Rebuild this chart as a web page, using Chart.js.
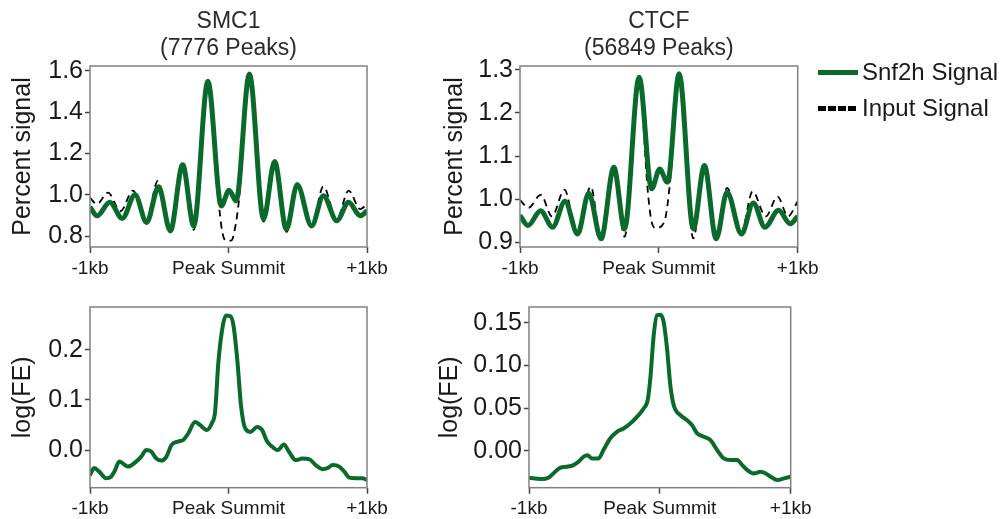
<!DOCTYPE html>
<html>
<head>
<meta charset="utf-8">
<script src="https://cdn.jsdelivr.net/npm/chart.js@4.4.0/dist/chart.umd.min.js"></script>
<style>
  body { margin: 0; background: #fff; width: 1008px; height: 519px; overflow: hidden; position: relative; font-family: "Liberation Sans", Arial, Helvetica, sans-serif; }
  canvas { position: absolute; }
  #legend { position: absolute; left: 818px; top: 54px; font-size: 24px; color: #1a1a1a; }
  #legend .item { display: flex; align-items: center; height: 36px; }
  #legend .swatch { width: 40px; height: 5px; margin-right: 4px; }
</style>
</head>
<body>
<canvas id="smc1Top" width="400" height="290" style="left:0;top:0"></canvas>
<canvas id="ctcfTop" width="400" height="290" style="left:432px;top:0"></canvas>
<canvas id="smc1Bottom" width="400" height="229" style="left:0;top:290px"></canvas>
<canvas id="ctcfBottom" width="400" height="229" style="left:427px;top:290px"></canvas>
<div id="legend"></div>
<script>
// ---- data (bp from peak summit) ----
const smc1Pos    = [-1000,-949,-857,-767,-675,-591,-505,-420,-331,-251,-149,-52,4,55,151,253,333,418,496,600,685,782,867,951,1000];
const smc1Snf2h  = [0.94,0.898,0.963,0.885,1.0,0.866,1.038,0.825,1.145,0.849,1.549,0.946,1.022,0.97,1.584,0.882,1.161,0.833,1.048,0.849,0.995,0.874,0.963,0.898,0.922];
const smc1InPos  = [-1000,-950,-870,-780,-690,-595,-510,-420,-335,-251,-149,-75,-45,-20,20,45,75,151,253,333,420,496,600,685,782,867,951,1000];
const smc1Input  = [0.985,0.955,1.01,0.92,1.02,0.87,1.067,0.82,1.14,0.83,1.54,0.99,0.82,0.778,0.778,0.83,0.97,1.575,0.87,1.155,0.82,1.055,0.85,1.04,0.88,1.02,0.93,0.955];

const ctcfPos    = [-1000,-942,-852,-765,-676,-585,-505,-416,-324,-247,-142,-52,6,62,146,248,328,413,491,595,680,764,862,946,1000];
const ctcfSnf2h  = [0.962,0.939,0.973,0.935,0.995,0.919,1.014,0.908,1.074,0.931,1.283,1.024,1.070,1.039,1.291,0.931,1.078,0.908,1.016,0.919,0.991,0.935,0.974,0.943,0.960];
const ctcfInPos  = [-1000,-940,-850,-770,-680,-590,-490,-416,-324,-247,-142,-80,-55,-20,40,80,146,248,328,413,491,595,675,770,855,930,1000];
const ctcfInput  = [0.998,0.98,1.01,0.96,1.022,0.925,1.029,0.905,1.07,0.913,1.275,1.02,0.952,0.933,0.948,1.037,1.285,0.909,1.075,0.905,1.026,0.925,1.018,0.96,1.006,0.96,0.995];

const smc1FePos  = [-1000,-970,-933,-885,-848,-824,-788,-727,-667,-630,-594,-558,-521,-485,-448,-412,-364,-327,-291,-242,-206,-158,-121,-97,-73,-41,-17,12,36,65,90,121,158,206,242,279,315,356,400,436,485,533,582,630,679,715,752,800,836,873,921,970,1000];
const smc1Fe     = [-0.050,-0.036,-0.043,-0.056,-0.053,-0.043,-0.023,-0.033,-0.023,-0.013,0.000,-0.003,-0.017,-0.021,-0.013,0.010,0.017,0.020,0.033,0.056,0.050,0.040,0.053,0.076,0.175,0.248,0.268,0.267,0.248,0.175,0.089,0.043,0.036,0.046,0.040,0.017,0.007,0.000,0.011,-0.003,-0.020,-0.017,-0.018,-0.030,-0.038,-0.036,-0.030,-0.033,-0.043,-0.055,-0.056,-0.056,-0.060];

const ctcfFePos  = [-1000,-954,-903,-852,-814,-763,-712,-660,-622,-584,-553,-520,-469,-431,-380,-328,-277,-226,-175,-124,-93,-73,-47,-22,4,29,55,80,106,157,208,246,285,336,387,438,489,540,591,630,668,719,770,808,847,898,949,1000];
const ctcfFe     = [-0.0316,-0.0323,-0.0331,-0.0316,-0.0265,-0.0199,-0.0187,-0.0168,-0.0129,-0.0070,-0.0051,-0.0090,-0.0090,0.0008,0.0144,0.0222,0.0261,0.0319,0.0397,0.0495,0.0592,0.0845,0.135,0.1586,0.1593,0.1508,0.1196,0.0768,0.0534,0.0417,0.0358,0.0300,0.0203,0.0164,0.0125,0.0008,-0.0090,-0.0109,-0.0109,-0.0168,-0.0226,-0.0265,-0.0245,-0.0265,-0.0304,-0.0343,-0.0323,-0.0304];

const xTicks      = [-1000, 0, 1000];
const xTickLabels = ['-1kb', 'Peak Summit', '+1kb'];
const smc1TopTicks = [0.8, 1.0, 1.2, 1.4, 1.6];
const ctcfTopTicks = [0.9, 1.0, 1.1, 1.2, 1.3];
const smc1FeTicks  = [0.0, 0.1, 0.2];
const ctcfFeTicks  = [0.00, 0.05, 0.10, 0.15];

const GREEN = '#0a6a2c';
Chart.defaults.font.family = '"Liberation Sans", Arial, Helvetica, sans-serif';
Chart.defaults.color = '#1a1a1a';

const zip = (xs, ys) => xs.map((x, i) => ({ x: x, y: ys[i] }));

// box around the plot area
const frame = {
  id: 'frame',
  afterDraw(chart) {
    const a = chart.chartArea, ctx = chart.ctx;
    ctx.save();
    ctx.strokeStyle = '#808080';
    ctx.lineWidth = 1.5;
    ctx.strokeRect(a.left, a.top, a.right - a.left, a.bottom - a.top);
    ctx.restore();
  }
};

function makePanel(id, o) {
  const datasets = [{
    label: 'Snf2h Signal',
    data: zip(o.pos, o.signal),
    borderColor: GREEN,
    borderWidth: o.lineWidth,
    pointRadius: 0,
    cubicInterpolationMode: 'monotone',
    fill: false
  }];
  if (o.inputPos) {
    datasets.push({
      label: 'Input Signal',
      data: zip(o.inputPos, o.input),
      borderColor: '#000',
      borderWidth: 1.8,
      borderDash: [7, 5],
      pointRadius: 0,
      cubicInterpolationMode: 'monotone',
      fill: false
    });
  }
  return new Chart(document.getElementById(id), {
    type: 'line',
    data: { datasets: datasets },
    plugins: [frame],
    options: {
      responsive: false,
      animation: false,
      layout: { padding: o.padding },
      plugins: {
        legend: { display: false },
        tooltip: { enabled: false },
        title: o.title ? {
          display: true,
          fullSize: false,
          text: o.title,
          color: '#2a2a2a',
          font: { size: 23, weight: 'normal', lineHeight: 27 / 23 },
          padding: { top: 8.5, bottom: 3.5 }
        } : { display: false }
      },
      scales: {
        x: {
          type: 'linear',
          min: -1000,
          max: 1000,
          border: { display: false },
          grid: { drawOnChartArea: false, tickLength: 6, tickColor: '#444', tickWidth: 1.5 },
          afterBuildTicks: s => { s.ticks = xTicks.map(v => ({ value: v })); },
          ticks: {
            maxRotation: 0,
            autoSkip: false,
            padding: 4,
            font: { size: 19 },
            callback: (v) => xTickLabels[xTicks.indexOf(v)]
          },
          afterFit: s => { s.height = o.xHeight; }
        },
        y: {
          min: o.yMin,
          max: o.yMax,
          border: { display: false },
          grid: { drawOnChartArea: false, tickLength: 5, tickColor: '#444', tickWidth: 1.5 },
          afterBuildTicks: s => { s.ticks = o.yTicks.map(v => ({ value: v })); },
          ticks: {
            padding: 2,
            font: { size: 25 },
            callback: v => v.toFixed(o.decimals)
          },
          title: {
            display: true,
            text: o.yTitle,
            font: { size: 25 },
            padding: { top: 8, bottom: 0 }
          },
          afterFit: s => { s.width = o.yWidth; }
        }
      }
    }
  });
}

makePanel('smc1Top', {
  pos: smc1Pos, signal: smc1Snf2h, inputPos: smc1InPos, input: smc1Input,
  lineWidth: 5, title: ['SMC1', '(7776 Peaks)'],
  yMin: 0.747, yMax: 1.623, yTicks: smc1TopTicks, decimals: 1, yTitle: 'Percent signal',
  padding: { left: 0, right: 33, top: 0, bottom: 0 }, yWidth: 90, xHeight: 43
});
makePanel('ctcfTop', {
  pos: ctcfPos, signal: ctcfSnf2h, inputPos: ctcfInPos, input: ctcfInput,
  lineWidth: 5, title: ['CTCF', '(56849 Peaks)'],
  yMin: 0.889, yMax: 1.309, yTicks: ctcfTopTicks, decimals: 1, yTitle: 'Percent signal',
  padding: { left: 0, right: 34.3, top: 0, bottom: 0 }, yWidth: 88, xHeight: 43
});
makePanel('smc1Bottom', {
  pos: smc1FePos, signal: smc1Fe, lineWidth: 4,
  yMin: -0.075, yMax: 0.285, yTicks: smc1FeTicks, decimals: 1, yTitle: 'log(FE)',
  padding: { left: 0, right: 33, top: 16.7, bottom: 0 }, yWidth: 90, xHeight: 31.3
});
makePanel('ctcfBottom', {
  pos: ctcfFePos, signal: ctcfFe, lineWidth: 4,
  yMin: -0.0432, yMax: 0.1683, yTicks: ctcfFeTicks, decimals: 2, yTitle: 'log(FE)',
  padding: { left: 0, right: 36.3, top: 16.7, bottom: 0 }, yWidth: 102, xHeight: 31.3
});

// legend shared by the top panels
const legendItems = [
  { label: 'Snf2h Signal', swatch: 'background:' + GREEN },
  { label: 'Input Signal', swatch: 'background: repeating-linear-gradient(to right, #000 0 8px, transparent 8px 10px)' }
];
document.getElementById('legend').innerHTML = legendItems.map(it =>
  '<div class="item"><span class="swatch" style="' + it.swatch + '"></span><span>' + it.label + '</span></div>'
).join('');
</script>
</body>
</html>
